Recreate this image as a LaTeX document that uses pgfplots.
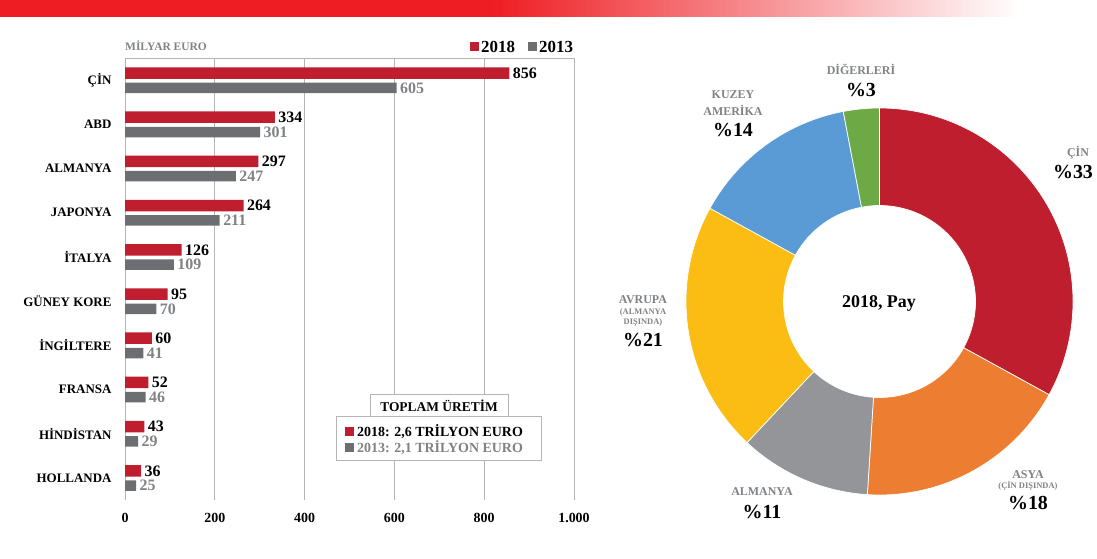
\documentclass[border=0pt]{standalone}
\usepackage{fontspec}
\setmainfont{Liberation Serif}
\usepackage{pgfplots}
\pgfplotsset{compat=1.18}
\usepackage{pgfplotstable}
\definecolor{cBan}{HTML}{EE1D23}
\definecolor{cRed}{HTML}{BE1E2D}
\definecolor{cBar}{HTML}{6D6E71}
\definecolor{cTxtG}{HTML}{808285}
\definecolor{cGrid}{HTML}{B5B5B5}
\definecolor{cAsya}{HTML}{ED7D31}
\definecolor{cAlm}{HTML}{939598}
\definecolor{cAvr}{HTML}{FBBC13}
\definecolor{cKA}{HTML}{5B9BD5}
\definecolor{cDig}{HTML}{6DAA45}
\newcommand\fs[1]{\fontsize{#1}{#1}\selectfont}

\pgfplotstableread{
idx v18 v13
0 856 605
1 334 301
2 297 247
3 264 211
4 126 109
5 95 70
6 60 41
7 52 46
8 43 29
9 36 25
}\prodtable

\begin{document}
\begin{tikzpicture}
\path[use as bounding box] (0,0) rectangle (1097bp,559bp);
% banner
\fill[cBan] (0,542bp) rectangle (493bp,559bp);
\shade[left color=cBan,right color=white] (492bp,542bp) rectangle (1020bp,559bp);

\begin{axis}[
  at={(125bp,59bp)}, anchor=south west,
  scale only axis, width=449bp, height=442bp,
  xmin=0, xmax=1000, ymin=-0.5, ymax=9.5, y dir=reverse,
  xbar, bar shift=0pt,
  axis line style={draw=none}, major tick length=0pt,
  xtick={0,200,400,600,800,1000},
  xticklabels={0,200,400,600,800,1.000},
  xticklabel style={font=\bfseries\fs{14}, yshift=-10bp},
  ytick={0,...,9},
  yticklabels={ÇİN,ABD,ALMANYA,JAPONYA,İTALYA,GÜNEY KORE,İNGİLTERE,FRANSA,HİNDİSTAN,HOLLANDA},
  yticklabel style={font=\bfseries\fs{13}, xshift=-10bp},
  xmajorgrids, grid style={draw=cGrid, line width=0.9bp},
  clip=false,
  point meta=x,
  nodes near coords={\pgfmathprintnumber[assume math mode=true]{\pgfplotspointmeta}},
]
\addplot[fill=cRed, draw=none, bar width=11.5bp,
  every node near coord/.append style={font=\bfseries\fs{16}, text=black, anchor=west}]
  table[x=v18, y expr=\thisrow{idx}-0.16]{\prodtable};
\addplot[fill=cBar, draw=none, bar width=10.5bp,
  every node near coord/.append style={font=\bfseries\fs{16}, text=cTxtG, anchor=west}]
  table[x=v13, y expr=\thisrow{idx}+0.175]{\prodtable};
\draw[cGrid, line width=0.9bp] (axis cs:0,-0.5) -- (axis cs:1000,-0.5);
\end{axis}

\begin{scope}[x=1bp,y=-1bp,shift={(0,559bp)}]
  % header of bar chart
  \node[anchor=west, text=cTxtG, inner sep=0] at (125,46) {\bfseries\fs{11.5}MİLYAR EURO};
  \fill[cRed] (470,42) rectangle (479,51);
  \node[anchor=west, inner sep=0] at (481,46.5) {\bfseries\fs{17}2018};
  \fill[cBar] (528,42) rectangle (537,51);
  \node[anchor=west, inner sep=0] at (539,46.5) {\bfseries\fs{17}2013};
  % total box
  \draw[cGrid, fill=white, line width=0.9bp] (336,416) rectangle (541,460);
  \draw[cGrid, fill=white, line width=0.9bp] (370,394) rectangle (508,416);
  \node at (439,405.5) {\bfseries\fs{13.5}TOPLAM ÜRETİM};
  \fill[cRed] (345,427) rectangle (354,436);
  \node[anchor=west, inner sep=0] at (357,431.5) {\bfseries\fs{14}2018: 2,6 TRİLYON EURO};
  \fill[cBar] (345,443) rectangle (354,452);
  \node[anchor=west, inner sep=0, text=cTxtG] at (357,447.5) {\bfseries\fs{14}2013: 2,1 TRİLYON EURO};
  % donut labels
  \node[text=cTxtG, align=center] at (861,69.5) {\bfseries\fs{12}DİĞERLERİ};
  \node at (861,90) {\bfseries\fs{20}\%3};
  \node[text=cTxtG, align=center] at (733,95) {\bfseries\fs{12}KUZEY};
  \node[text=cTxtG, align=center] at (733,110.5) {\bfseries\fs{12}AMERİKA};
  \node at (733,130.5) {\bfseries\fs{20}\%14};
  \node[text=cTxtG] at (1078,153) {\bfseries\fs{12}ÇİN};
  \node at (1073,172.5) {\bfseries\fs{20}\%33};
  \node[text=cTxtG] at (643,299.5) {\bfseries\fs{12}AVRUPA};
  \node[text=cTxtG] at (643,312) {\bfseries\fs{8.5}(ALMANYA};
  \node[text=cTxtG] at (643,322) {\bfseries\fs{8.5}DIŞINDA)};
  \node at (643,340) {\bfseries\fs{20}\%21};
  \node[text=cTxtG] at (762,492) {\bfseries\fs{12}ALMANYA};
  \node at (762,512) {\bfseries\fs{20}\%11};
  \node[text=cTxtG] at (1028,475) {\bfseries\fs{12}ASYA};
  \node[text=cTxtG] at (1028,486) {\bfseries\fs{8.5}(ÇİN DIŞINDA)};
  \node at (1028,503) {\bfseries\fs{20}\%18};
  \node at (879,303) {\bfseries\fs{18}2018, Pay};
\end{scope}

% donut
\begin{scope}[shift={(879.5bp,257.5bp)}]
  \gdef\angA{90}
  \foreach \v/\c in {33/cRed,18/cAsya,11/cAlm,21/cAvr,14/cKA,3/cDig}{
    \pgfmathsetmacro\angB{\angA-3.6*\v}
    \fill[\c, draw=white, line width=0.7bp] (\angA:193.5bp) arc[start angle=\angA, end angle=\angB, radius=193.5bp]
      -- (\angB:96bp) arc[start angle=\angB, end angle=\angA, radius=96bp] -- cycle;
    \xdef\angA{\angB}
  }
\end{scope}
\end{tikzpicture}
\end{document}
